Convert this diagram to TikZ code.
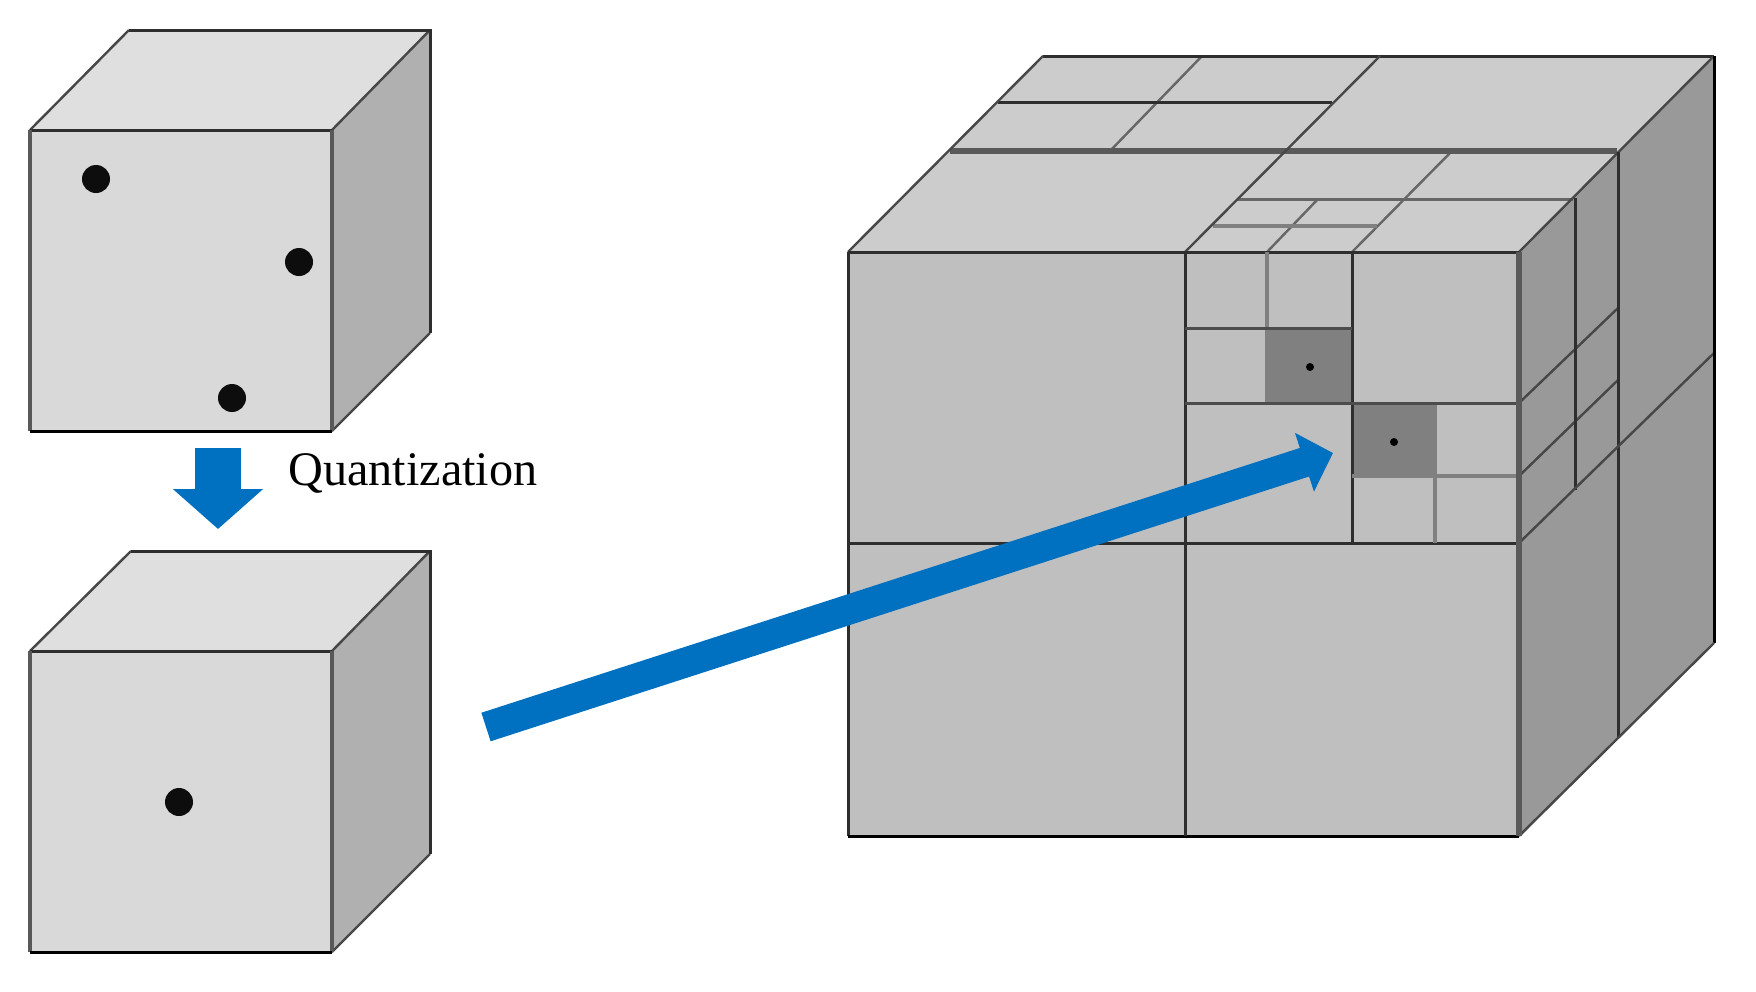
\documentclass[tikz,border=0pt]{standalone}
\usepackage{fontspec}
\setmainfont{Liberation Serif}
\usepackage{xcolor}
\usetikzlibrary{arrows.meta}
\definecolor{arrowblue}{HTML}{0070C0}
\tikzset{
  edgeline/.style={draw=black!82,line width=1.5pt},
  slantline/.style={draw=black!72,line width=1.2pt},
  softline/.style={draw=black!65,line width=2.2pt},
  thinline/.style={draw=black!60,line width=1.2pt},
}
\begin{document}
\begin{tikzpicture}[x=0.5pt,y=-0.5pt,every node/.style={font=\fontsize{24.1}{28}\selectfont}]
\useasboundingbox (0,0) rectangle (1756,991);
% small cubes
\foreach \yf/\dx in {130/99,651/101}{
  \pgfmathsetmacro{\yb}{\yf+301}
  \pgfmathsetmacro{\xb}{30+\dx}
  \fill[black!15] (30,\yf) rectangle (332,\yb);
  \fill[black!12.5] (30,\yf) -- (\xb,\yf-100) -- (430,\yf-100) -- (332,\yf) -- cycle;
  \fill[black!31] (332,\yf) -- (430,\yf-100) -- (430,\yb-98) -- (332,\yb) -- cycle;
  \draw[slantline] (30,\yf) -- (\xb,\yf-100);
  \draw[slantline] (332,\yf) -- (430,\yf-100);
  \draw[slantline] (332,\yb) -- (430,\yb-98);
  \draw[edgeline] (\xb,\yf-100) -- (430,\yf-100) -- (430,\yb-98);
  \draw[edgeline] (30,\yf) -- (332,\yf);
  \draw[softline,line width=1.8pt] (30,\yf) -- (30,\yb);
  \draw[softline,line width=1.8pt] (332,\yf) -- (332,\yb);
  \draw[edgeline,draw=black] (30,\yb) -- (332,\yb);
}
\foreach \x/\y in {96/179,299/262,232/398,179/802}{
  \fill[black!95] (\x,\y) circle (7pt);
}
% large cube faces
\fill[black!25] (848,252) rectangle (1519,836);
\fill[black!20] (848,252) -- (1043,56) -- (1714,56) -- (1519,252) -- cycle;
\fill[black!40] (1519,252) -- (1714,56) -- (1714,643) -- (1519,836) -- cycle;
\fill[black!50] (1267,328) rectangle (1352,403);
\fill[black!50] (1352,403) rectangle (1435,476);
% top face
\draw[thinline] (1202,56) -- (1110,151);
\draw[thinline] (1452,151) -- (1352,252);
\draw[thinline] (1318,199) -- (1267,252);
\draw[edgeline] (1043,56) -- (1714,56);
\draw[edgeline] (998,102) -- (1332,102);
\draw[softline,line width=2.6pt] (950,151) -- (1617,151);
\draw[thinline,line width=1.5pt] (1237,199) -- (1573,199);
\draw[thinline,line width=2.2pt,draw=black!50] (1213,226) -- (1377,226);
\draw[slantline] (848,252) -- (1043,56);
\draw[slantline] (1185,252) -- (1380,56);
\draw[slantline] (1519,252) -- (1714,56);
% right face
\foreach \ya/\yb in {403/308,476/380}{
  \draw[slantline] (1519,\ya) -- (1618,\yb);
}
\draw[edgeline] (1618,152) -- (1618,738);
\draw[edgeline] (1575,198) -- (1575,490);
\draw[slantline] (1519,543) -- (1714,353);
\draw[edgeline,draw=black] (1714,56) -- (1714,643);
\draw[slantline] (1714,643) -- (1519,836);
% front face
\draw[edgeline] (848,252) -- (1519,252);
\draw[edgeline] (848,252) -- (848,836);
\draw[edgeline,draw=black] (848,836) -- (1519,836);
\draw[edgeline] (1185,252) -- (1185,836);
\draw[edgeline] (848,543) -- (1519,543);
\draw[softline,line width=1.7pt,draw=black!50] (1267,252) -- (1267,403);
\draw[edgeline] (1352,252) -- (1352,543);
\draw[softline,line width=1.7pt,draw=black!50] (1435,403) -- (1435,543);
\draw[thinline,line width=1.5pt,draw=black!70] (1185,328) -- (1352,328);
\draw[thinline,line width=1.5pt,draw=black!70] (1185,403) -- (1519,403);
\draw[thinline,line width=2.2pt,draw=black!50] (1352,476) -- (1519,476);
\draw[softline,line width=2.6pt] (1519,252) -- (1519,836);
\foreach \x/\y in {1310/367,1394/442}{
  \fill[black] (\x,\y) circle (2pt);
}
% arrows and label
\coordinate (quantstart) at (218,448);
\coordinate (quantend) at (218,529);
\coordinate (mapstart) at (486,727);
\coordinate (mapend) at (1333,453);
\draw[arrowblue,line width=23pt,-{Triangle[length=20pt,width=44pt]}] (quantstart) -- (quantend);
\draw[arrowblue,line width=15pt,-{Triangle[length=15pt,width=30pt]}] (mapstart) -- (mapend);
\node[anchor=base west,inner sep=0pt] (quantlabel) at (288,485) {Quantization};
\end{tikzpicture}
\end{document}
